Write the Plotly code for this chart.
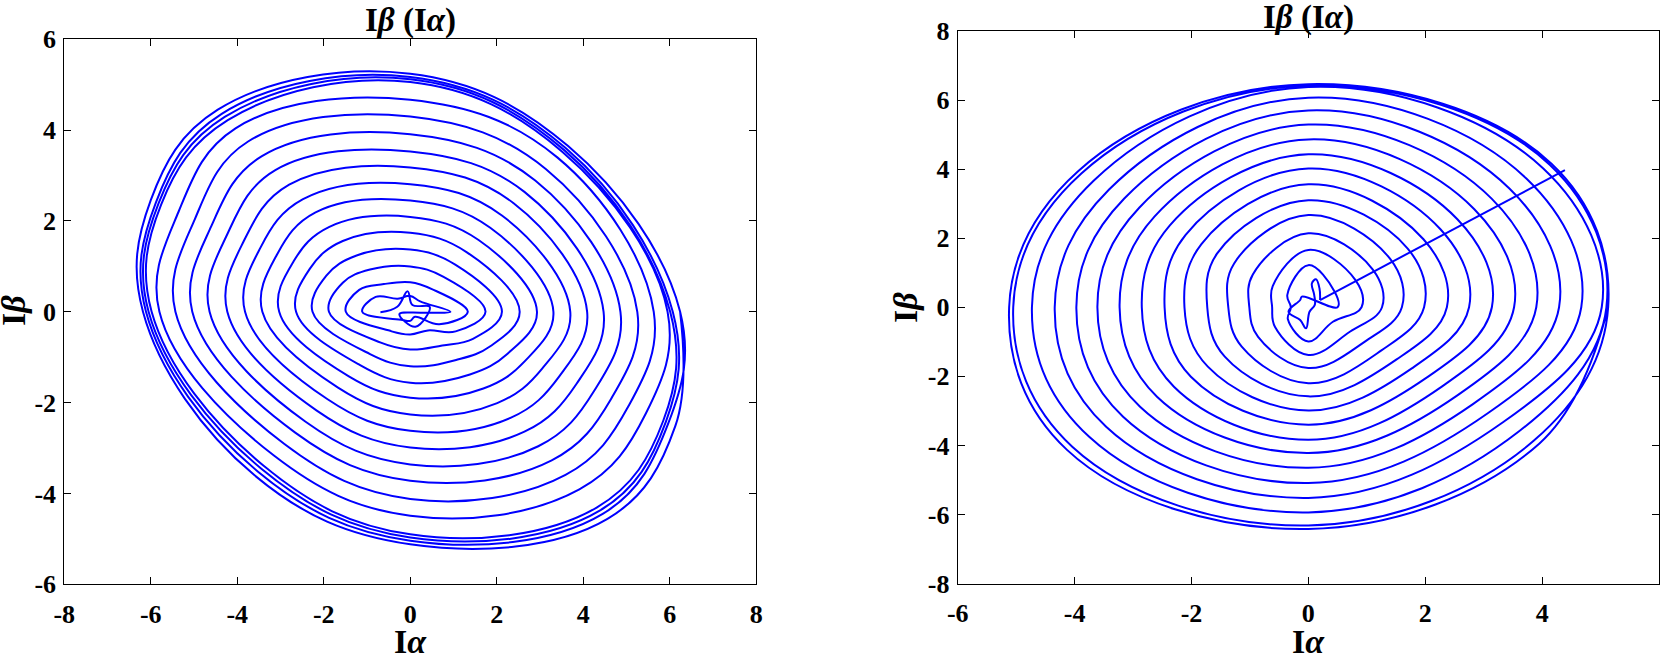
import plotly.graph_objects as go

# Left panel: where each turn of the trajectory crosses the rays from the origin
# (e/w: x on y=0, n/s: y on x=0, diagonals: |x| = |y| on the lines y = +-x,
#  ese/wnw: x on the line y = -0.41 x, along the long axis of the orbit)
left_e = [0.93, 1.33, 1.74, 2.12, 2.53, 2.93, 3.31, 3.70, 4.09, 4.47, 4.86, 5.25, 5.63, 5.95, 6.01, 6.07, 6.24]
left_ne = [0.23, 0.50, 0.77, 1.04, 1.31, 1.58, 1.85, 2.12, 2.39, 2.64, 2.89, 3.14, 3.40, 3.52, 3.56, 3.60, 3.65]
left_n = [0.35, 0.65, 1.00, 1.37, 1.74, 2.09, 2.45, 2.81, 3.18, 3.53, 3.91, 4.30, 4.67, 5.06, 5.12, 5.17, 5.24]
left_nw = [0.29, 0.61, 0.93, 1.24, 1.56, 1.87, 2.19, 2.48, 2.80, 3.12, 3.43, 3.75, 4.04, 4.22, 4.29, 4.36, 4.45]
left_wnw = [-0.80, -1.18, -1.56, -1.94, -2.32, -2.70, -3.08, -3.46, -3.84, -4.22, -4.60, -4.98, -5.36, -5.76, -5.82, -5.88, -6.00]
left_w = [-1.11, -1.49, -1.88, -2.26, -2.64, -3.03, -3.42, -3.82, -4.23, -4.64, -5.04, -5.43, -5.80, -5.98, -6.05, -6.11, -6.18]
left_sw = [0.18, 0.43, 0.68, 0.93, 1.17, 1.42, 1.67, 1.92, 2.17, 2.42, 2.66, 2.91, 3.16, 3.39, 3.45, 3.52, 3.60]
left_s = [-0.20, -0.50, -0.83, -1.20, -1.56, -1.89, -2.26, -2.62, -2.99, -3.36, -3.72, -4.12, -4.49, -4.90, -4.97, -5.04, -5.12]
left_se = [0.11, 0.41, 0.74, 1.06, 1.38, 1.69, 2.01, 2.33, 2.64, 2.96, 3.27, 3.59, 3.91, 4.31, 4.38, 4.45, 4.56]
left_ese = [0.67, 1.05, 1.45, 1.85, 2.25, 2.65, 3.05, 3.45, 3.85, 4.25, 4.65, 5.05, 5.45, 5.85, 5.91, 5.97, 6.13]
left_long_axis_slope = -0.41
left_start_x = [-0.69, -0.30, -0.06, 0.05, 0.45, 0.12, -0.25, 0.30]
left_start_y = [-0.01, 0.11, 0.45, 0.15, 0.11, -0.33, -0.05, -0.02]

# Right panel (e/w: x on y=0, n/s: y on x=0, diagonals: |x| = |y| on y = +-x)
right_e = [0.50, 0.91, 1.26, 1.60, 1.98, 2.37, 2.75, 3.14, 3.52, 3.90, 4.29, 4.67, 5.02, 5.10, 5.13]
right_ne = [0.45, 0.80, 1.10, 1.40, 1.70, 1.97, 2.26, 2.55, 2.84, 3.14, 3.44, 3.73, 4.02, 4.13, 4.16]
right_n = [1.22, 1.66, 2.14, 2.67, 3.10, 3.56, 4.02, 4.43, 4.86, 5.29, 5.70, 6.07, 6.38, 6.42, 6.46]
right_nw = [0.36, 0.61, 0.95, 1.27, 1.56, 1.83, 2.10, 2.37, 2.63, 2.89, 3.15, 3.41, 3.67, 3.88, 3.94]
right_w = [-0.30, -0.62, -1.01, -1.37, -1.73, -2.12, -2.46, -2.85, -3.23, -3.61, -3.97, -4.34, -4.73, -5.05, -5.12]
right_sw = [0.35, 0.57, 0.86, 1.14, 1.43, 1.72, 2.01, 2.30, 2.59, 2.88, 3.17, 3.46, 3.75, 4.04, 4.13]
right_s = [-0.99, -1.38, -1.76, -2.20, -2.58, -2.99, -3.40, -3.84, -4.22, -4.65, -5.09, -5.52, -5.94, -6.32, -6.42]
right_se = [0.42, 0.71, 0.98, 1.25, 1.51, 1.77, 2.03, 2.29, 2.55, 2.81, 3.07, 3.33, 3.60, 3.86, 3.95]
right_start_x = [0.20, 0.19, 0.13, 0.06, 0.10, 0.11, 0.02, -0.04, -0.14, -0.34, -0.14, -0.11]
right_start_y = [0.21, 0.55, 0.81, 0.69, 0.36, 0.07, -0.13, -0.61, -0.37, -0.13, 0.21, 0.31]
right_jump_x = [0.20, 4.39]
right_jump_y = [0.21, 3.97]

left_xticks = [-8, -6, -4, -2, 0, 2, 4, 6, 8]
left_yticks = [-6, -4, -2, 0, 2, 4, 6]
right_xticks = [-6, -4, -2, 0, 2, 4, 6]
right_yticks = [-8, -6, -4, -2, 0, 2, 4, 6, 8]

BLUE = "#0000ff"
SERIF = "Liberation Serif, Times New Roman, serif"


def on_x_axis(vals):
    return list(vals), [0] * len(vals)


def on_y_axis(vals):
    return [0] * len(vals), list(vals)


def on_line(xvals, slope):
    return list(xvals), [slope * x for x in xvals]


def neg(vals):
    return [-v for v in vals]


def turns(rays, start_x, start_y):
    """Chain the ray crossings of every turn (rays in angular order) into one path."""
    xs, ys = list(start_x), list(start_y)
    for k in range(len(rays[0][0])):
        for rx_, ry_ in rays:
            xs.append(rx_[k])
            ys.append(ry_[k])
    xs.append(rays[0][0][-1])
    ys.append(rays[0][1][-1])
    return xs, ys


def ticktext(vals):
    return [str(v) for v in vals]


fig = go.Figure()

left_rays = [
    on_x_axis(left_e), on_line(left_ne, 1), on_y_axis(left_n), on_line(neg(left_nw), -1),
    on_line(left_wnw, left_long_axis_slope), on_x_axis(left_w), on_line(neg(left_sw), 1),
    on_y_axis(left_s), on_line(left_se, -1), on_line(left_ese, left_long_axis_slope),
]
lx, ly = turns(left_rays, left_start_x, left_start_y)
fig.add_trace(go.Scatter(x=lx, y=ly, mode="lines", xaxis="x", yaxis="y",
                         line=dict(color=BLUE, width=2, shape="spline", smoothing=1.12)))

right_rays = [
    on_x_axis(right_e), on_line(right_ne, 1), on_y_axis(right_n), on_line(neg(right_nw), -1),
    on_x_axis(right_w), on_line(neg(right_sw), 1), on_y_axis(right_s), on_line(right_se, -1),
]
rx, ry = turns(right_rays, right_start_x, right_start_y)
fig.add_trace(go.Scatter(x=rx, y=ry, mode="lines", xaxis="x2", yaxis="y2",
                         line=dict(color=BLUE, width=2, shape="spline", smoothing=1.12)))
fig.add_trace(go.Scatter(x=right_jump_x, y=right_jump_y, mode="lines", xaxis="x2", yaxis="y2",
                         line=dict(color=BLUE, width=2)))

axis_common = dict(
    showline=True, linecolor="black", linewidth=1, mirror="ticks", automargin=False,
    ticks="inside", ticklen=7, tickcolor="black", showgrid=False, zeroline=False,
    tickfont=dict(family=SERIF, size=26, color="black", weight="bold"),
)

fig.update_layout(
    width=1665, height=653,
    margin=dict(l=0, r=0, t=0, b=0, autoexpand=False),
    paper_bgcolor="white", plot_bgcolor="white",
    showlegend=False,
    xaxis=dict(axis_common, domain=[0.0386, 0.4542], range=[-8, 8], anchor="y",
               tickvals=left_xticks, ticktext=ticktext(left_xticks), ticklabelstandoff=6),
    yaxis=dict(axis_common, domain=[0.1052, 0.9398], range=[-6, 6], anchor="x",
               tickvals=left_yticks, ticktext=ticktext(left_yticks), ticklabelstandoff=2),
    xaxis2=dict(axis_common, domain=[0.5752, 0.9964], range=[-6, 6], anchor="y2",
                tickvals=right_xticks, ticktext=ticktext(right_xticks), ticklabelstandoff=6),
    yaxis2=dict(axis_common, domain=[0.1064, 0.9525], range=[-8, 8], anchor="x2",
                tickvals=right_yticks, ticktext=ticktext(right_yticks), ticklabelstandoff=2),
)

title_text = "<b>I<i>β</i> (I<i>α</i>)</b>"
labels = [
    (410, 20, title_text, 33, 0),
    (1308, 17, title_text, 33, 0),
    (410, 641, "<b>I<i>α</i></b>", 34, 0),
    (1308, 641, "<b>I<i>α</i></b>", 34, 0),
    (13, 311, "<b>I<i>β</i></b>", 34, -90),
    (905, 307, "<b>I<i>β</i></b>", 34, -90),
]
for px, py, text, size, angle in labels:
    fig.add_annotation(x=px / 1665, y=1 - py / 653, xref="paper", yref="paper",
                       text=text, showarrow=False, textangle=angle,
                       xanchor="center", yanchor="middle",
                       font=dict(family=SERIF, size=size, color="black"))

# the page is photographed from its top-left corner, so drop the default body margin
fig.write_html("out.html", config={"displayModeBar": False},
               post_script="document.body.style.margin = '0';")
